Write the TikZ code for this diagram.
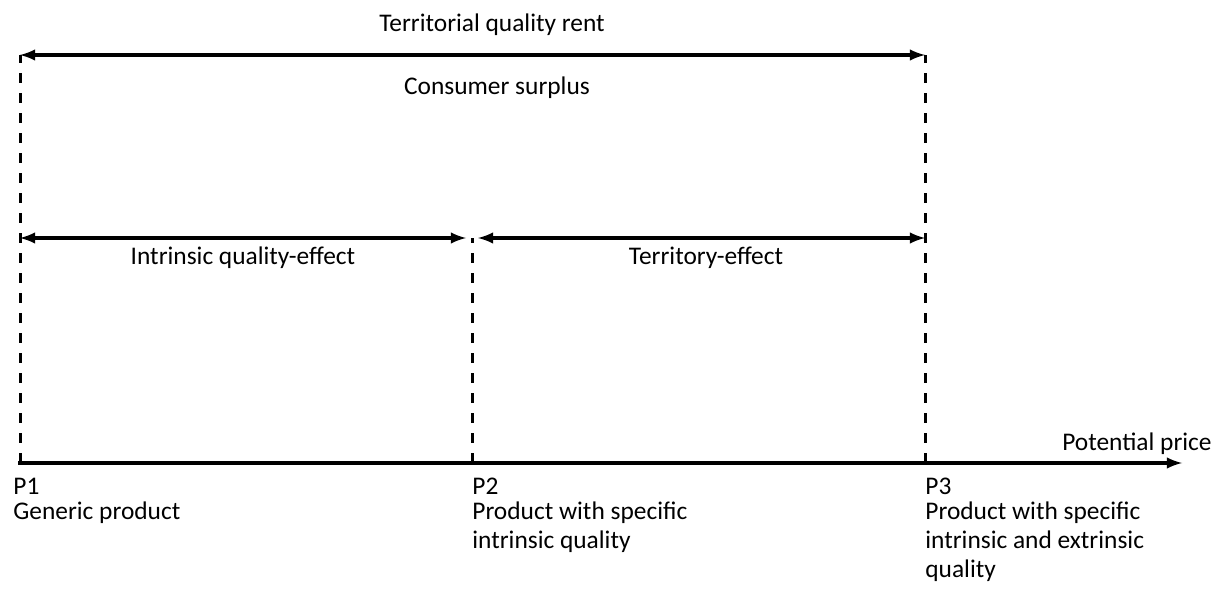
\documentclass[tikz,border=0pt]{standalone}
\usepackage{fontspec}
\setmainfont{Carlito}
\usetikzlibrary{positioning}
\tikzstyle{lbl} = [inner sep=0pt, font=\fontsize{12.7}{14.5}\selectfont]
\tikzstyle{desc} = [lbl, align=left]
\tikzstyle{guide} = [line width=1.5pt, dash pattern=on 5pt off 5pt]
\tikzstyle{spanarrow} = [latex-latex, line width=1.6pt]

\begin{document}
\begin{tikzpicture}[x=0.5pt, y=-0.5pt]
  \useasboundingbox (0,0) rectangle (1215,592);

  % price points on the axis
  \coordinate (origin) at (18,463);
  \coordinate (end) at (1182,463);
  \coordinate (p1) at (20,463);
  \coordinate (p2) at (472,463);
  \coordinate (p3) at (925,463);
  \coordinate (p1top) at (20,55);
  \coordinate (p3top) at (925,55);
  \coordinate (p1mid) at (20,238);
  \coordinate (p2mid) at (472,238);
  \coordinate (p3mid) at (925,238);

  \draw[guide] (p1) -- (p1top);
  \draw[guide] (p2) -- (p2mid);
  \draw[guide] (p3) -- (p3top);

  \draw[-latex, line width=1.6pt] (origin) -- (end);
  \draw[spanarrow] (p1top) -- (p3top);
  \draw[spanarrow, shorten >=3pt] (p1mid) -- (p2mid);
  \draw[spanarrow, shorten <=3pt] (p2mid) -- (p3mid);

  \node[lbl, anchor=base] (rent) at (492,32) {Territorial quality rent};
  \node[lbl, anchor=base] (surplus) at (497,95) {Consumer surplus};
  \node[lbl, anchor=base] (intrinsic) at (243,265) {Intrinsic quality-effect};
  \node[lbl, anchor=base] (territory) at (706,265) {Territory-effect};
  \node[lbl, anchor=base east] (price) at (1212,451) {Potential price};

  \node[lbl, anchor=base west] (p1lbl) at (13,495) {P1};
  \node[lbl, anchor=base west] (p2lbl) at (472,495) {P2};
  \node[lbl, anchor=base west] (p3lbl) at (925,495) {P3};

  \node[desc, below right=3pt and 0pt of p1lbl.south west] (generic) {Generic product};
  \node[desc, below right=3pt and 0pt of p2lbl.south west] (specific) {Product with specific\\intrinsic quality};
  \node[desc, below right=3pt and 0pt of p3lbl.south west] (extrinsic) {Product with specific\\intrinsic and extrinsic\\quality};
\end{tikzpicture}
\end{document}
